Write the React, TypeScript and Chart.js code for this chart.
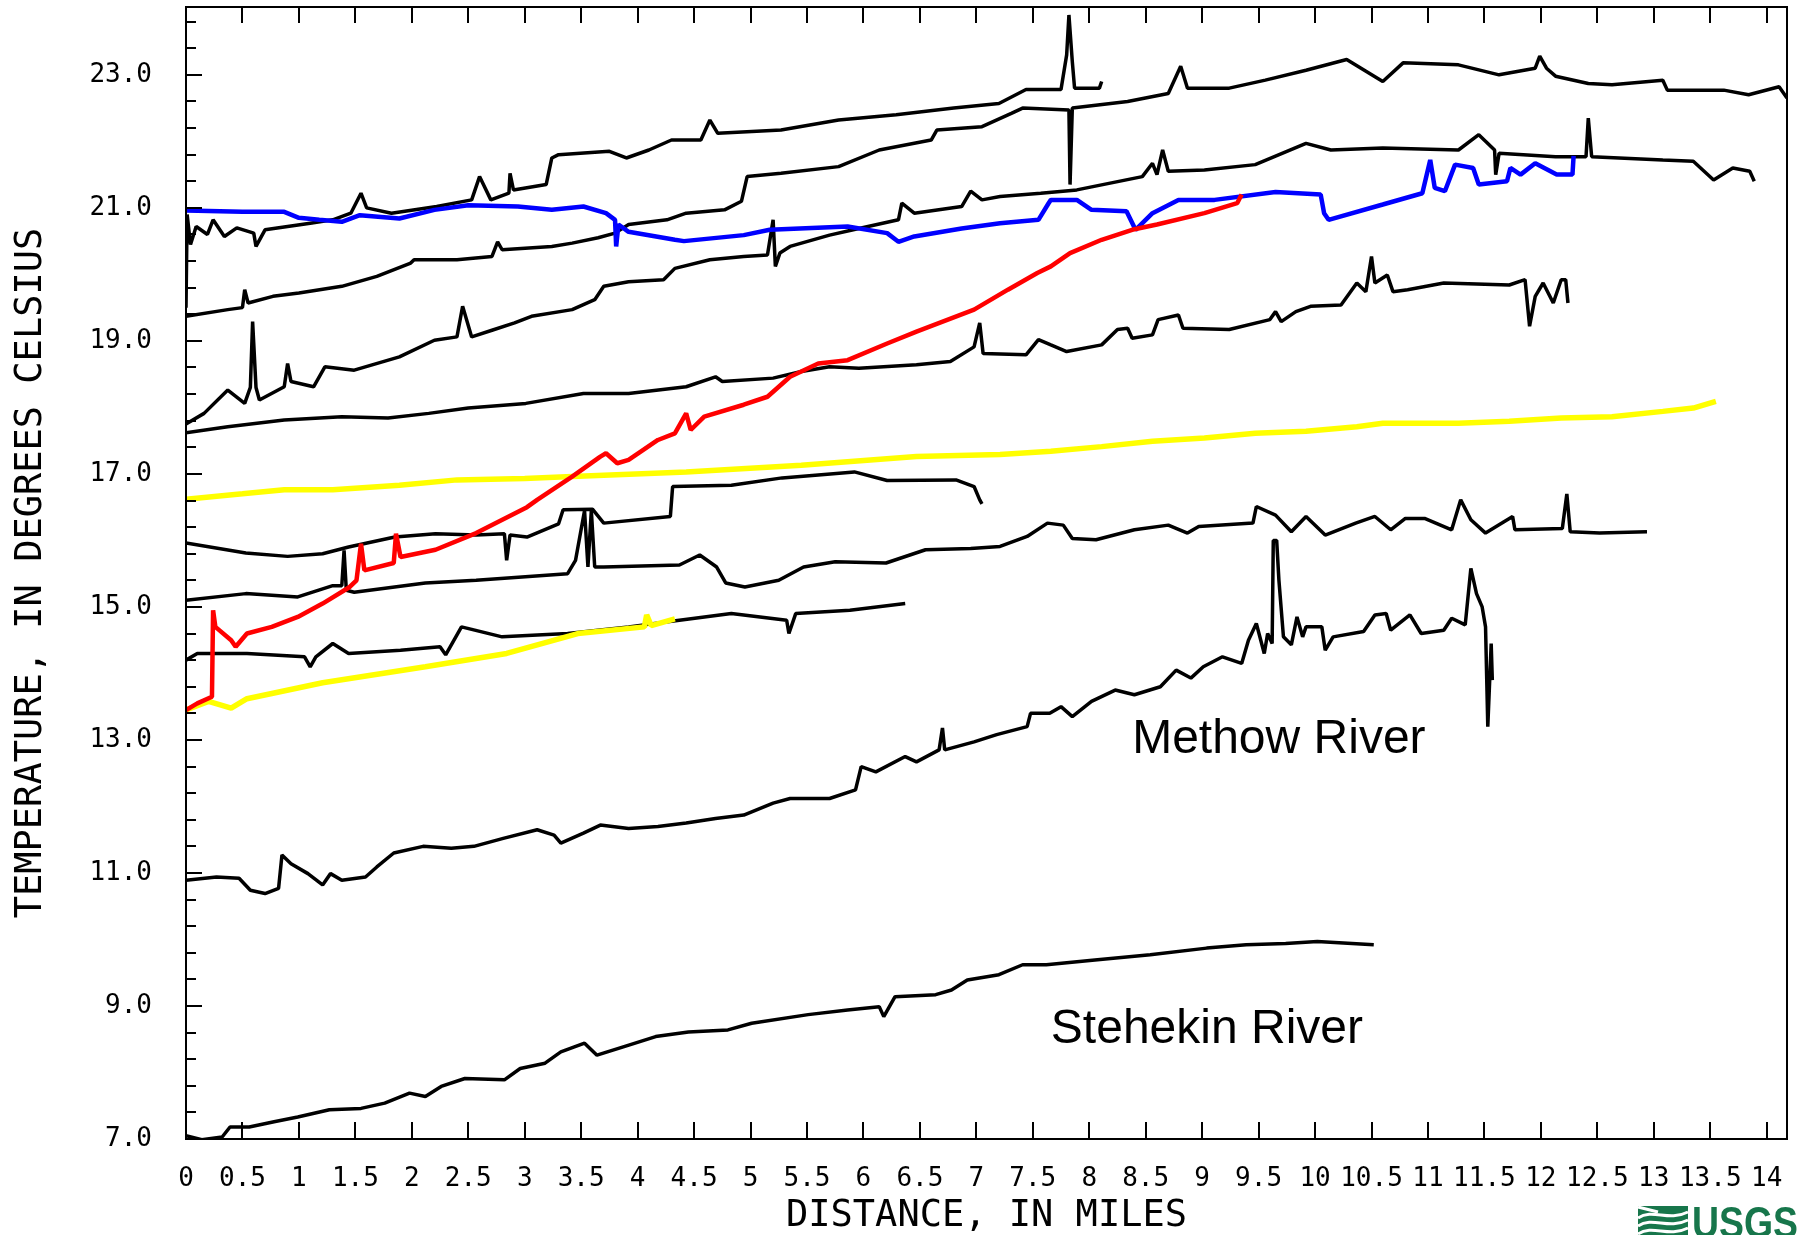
import { useEffect, useRef } from "react";
import { Chart, registerables } from "chart.js";

Chart.register(...registerables);

const FONT = "'DejaVu Sans Mono', 'Liberation Mono', monospace";

// ---- axis ticks ----
const xTickValues = [0, 0.5, 1, 1.5, 2, 2.5, 3, 3.5, 4, 4.5, 5, 5.5, 6, 6.5, 7, 7.5, 8, 8.5, 9, 9.5, 10, 10.5, 11, 11.5, 12, 12.5, 13, 13.5, 14];
const xTickLabels = ["0", "0.5", "1", "1.5", "2", "2.5", "3", "3.5", "4", "4.5", "5", "5.5", "6", "6.5", "7", "7.5", "8", "8.5", "9", "9.5", "10", "10.5", "11", "11.5", "12", "12.5", "13", "13.5", "14"];
const yTickValues = [7, 9, 11, 13, 15, 17, 19, 21, 23];
const yTickLabels = ["7.0", "9.0", "11.0", "13.0", "15.0", "17.0", "19.0", "21.0", "23.0"];
const yMinorTicks = [7.0, 7.4, 7.8, 8.2, 8.6, 9.0, 9.4, 9.8, 10.2, 10.6, 11.0, 11.4, 11.8, 12.2, 12.6, 13.0, 13.4, 13.8, 14.2, 14.6, 15.0, 15.4, 15.8, 16.2, 16.6, 17.0, 17.4, 17.8, 18.2, 18.6, 19.0, 19.4, 19.8, 20.2, 20.6, 21.0, 21.4, 21.8, 22.2, 22.6, 23.0, 23.4, 23.8];

// ---- series: [distance in miles, temperature in deg C] ----
const seriesT1: [number, number][] = [
  [0.0, 19.5], [0.01, 20.9], [0.04, 20.45], [0.09, 20.72], [0.19, 20.6], [0.24, 20.82], [0.34, 20.57], [0.45, 20.7],
  [0.6, 20.62], [0.62, 20.42], [0.7, 20.67], [1.1, 20.77], [1.3, 20.82], [1.46, 20.92], [1.55, 21.22], [1.6, 21.0],
  [1.82, 20.92], [2.22, 21.02], [2.53, 21.12], [2.6, 21.47], [2.7, 21.12], [2.86, 21.22], [2.87, 21.52], [2.9, 21.27],
  [3.19, 21.35], [3.24, 21.75], [3.3, 21.8], [3.75, 21.85], [3.9, 21.75], [4.1, 21.87], [4.3, 22.02], [4.56, 22.02],
  [4.64, 22.32], [4.71, 22.12], [5.27, 22.17], [5.78, 22.32], [6.29, 22.4], [6.8, 22.5], [7.2, 22.57], [7.44, 22.78],
  [7.75, 22.78], [7.8, 23.3], [7.82, 23.9], [7.85, 23.2], [7.87, 22.8], [8.09, 22.8], [8.11, 22.9],
];
const seriesT2: [number, number][] = [
  [0.0, 19.37], [0.37, 19.47], [0.5, 19.5], [0.52, 19.77], [0.55, 19.57], [0.77, 19.67], [1.0, 19.72], [1.38, 19.82],
  [1.69, 19.97], [1.99, 20.17], [2.02, 20.22], [2.4, 20.22], [2.71, 20.27], [2.76, 20.49], [2.8, 20.37], [3.24, 20.42],
  [3.42, 20.47], [3.65, 20.55], [3.8, 20.62], [3.92, 20.75], [4.26, 20.82], [4.43, 20.92], [4.77, 20.97], [4.92, 21.1],
  [4.97, 21.47], [5.27, 21.52], [5.78, 21.62], [6.14, 21.87], [6.6, 22.02], [6.65, 22.17], [7.05, 22.22], [7.31, 22.42],
  [7.41, 22.5], [7.82, 22.47], [7.83, 21.35], [7.85, 22.5], [8.34, 22.6], [8.7, 22.72], [8.81, 23.13], [8.87, 22.8],
  [9.24, 22.8], [9.56, 22.92], [9.92, 23.07], [10.28, 23.23], [10.6, 22.9], [10.78, 23.18], [11.27, 23.15], [11.63, 23.0],
  [11.95, 23.1], [11.99, 23.28], [12.05, 23.1], [12.13, 22.98], [12.42, 22.87], [12.63, 22.85], [13.08, 22.92], [13.12, 22.77],
  [13.62, 22.77], [13.84, 22.7], [14.11, 22.82], [14.18, 22.65],
];
const seriesT3: [number, number][] = [
  [0.0, 17.75], [0.16, 17.91], [0.37, 18.26], [0.52, 18.06], [0.57, 18.3], [0.59, 19.29], [0.62, 18.3], [0.65, 18.11],
  [0.87, 18.31], [0.9, 18.66], [0.93, 18.39], [1.13, 18.31], [1.23, 18.61], [1.49, 18.56], [1.89, 18.76], [2.2, 19.01],
  [2.4, 19.06], [2.45, 19.52], [2.53, 19.06], [2.71, 19.16], [2.91, 19.27], [3.06, 19.37], [3.42, 19.47], [3.62, 19.62],
  [3.7, 19.82], [3.92, 19.89], [4.23, 19.92], [4.33, 20.09], [4.64, 20.22], [4.94, 20.27], [5.15, 20.29], [5.2, 20.82],
  [5.22, 20.12], [5.26, 20.32], [5.35, 20.42], [5.7, 20.59], [5.91, 20.67], [6.31, 20.82], [6.34, 21.07], [6.45, 20.92],
  [6.87, 21.02], [6.95, 21.25], [7.05, 21.12], [7.21, 21.17], [7.57, 21.22], [7.89, 21.27], [8.47, 21.47], [8.56, 21.67],
  [8.6, 21.5], [8.65, 21.87], [8.7, 21.55], [9.02, 21.57], [9.47, 21.65], [9.92, 21.97], [10.14, 21.87], [10.6, 21.9],
  [11.27, 21.87], [11.45, 22.1], [11.59, 21.87], [11.6, 21.5], [11.63, 21.82], [12.13, 21.77], [12.4, 21.77], [12.42, 22.35],
  [12.45, 21.77], [13.08, 21.72], [13.35, 21.7], [13.53, 21.42], [13.7, 21.6], [13.85, 21.55], [13.89, 21.4],
];
const seriesT4: [number, number][] = [
  [0.0, 17.62], [0.37, 17.71], [0.87, 17.81], [1.38, 17.86], [1.79, 17.84], [2.15, 17.91], [2.5, 17.99], [3.01, 18.06],
  [3.52, 18.21], [3.92, 18.21], [4.43, 18.31], [4.69, 18.46], [4.75, 18.39], [5.2, 18.44], [5.45, 18.54], [5.7, 18.61],
  [5.96, 18.59], [6.47, 18.64], [6.77, 18.69], [6.98, 18.91], [7.03, 19.27], [7.06, 18.81], [7.44, 18.79], [7.55, 19.02],
  [7.66, 18.94], [7.8, 18.84], [8.11, 18.94], [8.25, 19.17], [8.34, 19.19], [8.38, 19.04], [8.56, 19.09], [8.61, 19.32],
  [8.79, 19.39], [8.83, 19.19], [9.24, 19.17], [9.6, 19.32], [9.65, 19.44], [9.7, 19.29], [9.83, 19.44], [9.96, 19.52],
  [10.23, 19.54], [10.37, 19.87], [10.45, 19.74], [10.5, 20.27], [10.53, 19.87], [10.64, 19.99], [10.69, 19.74], [10.82, 19.77],
  [11.14, 19.87], [11.72, 19.84], [11.86, 19.92], [11.9, 19.22], [11.95, 19.67], [12.02, 19.87], [12.11, 19.57], [12.18, 19.92],
  [12.22, 19.92], [12.24, 19.57],
];
const seriesBlue: [number, number][] = [
  [0.0, 20.96], [0.5, 20.94], [0.87, 20.94], [1.0, 20.85], [1.18, 20.82], [1.38, 20.79], [1.54, 20.89], [1.89, 20.84],
  [2.2, 20.97], [2.5, 21.04], [2.94, 21.02], [3.24, 20.97], [3.52, 21.02], [3.72, 20.92], [3.8, 20.82], [3.81, 20.42],
  [3.83, 20.75], [3.92, 20.64], [4.33, 20.52], [4.41, 20.5], [4.94, 20.59], [5.17, 20.67], [5.86, 20.72], [6.21, 20.62],
  [6.31, 20.49], [6.45, 20.57], [6.87, 20.69], [7.21, 20.77], [7.55, 20.82], [7.64, 21.07], [7.66, 21.12], [7.89, 21.12],
  [8.02, 20.97], [8.33, 20.95], [8.41, 20.67], [8.56, 20.92], [8.79, 21.12], [9.11, 21.12], [9.65, 21.24], [10.05, 21.2],
  [10.08, 20.92], [10.12, 20.82], [10.6, 21.05], [10.95, 21.22], [11.02, 21.72], [11.06, 21.3], [11.15, 21.25], [11.24, 21.65],
  [11.4, 21.6], [11.45, 21.35], [11.7, 21.4], [11.73, 21.6], [11.82, 21.5], [11.95, 21.67], [12.14, 21.5], [12.28, 21.5],
  [12.29, 21.78],
];
const seriesRed: [number, number][] = [
  [0.0, 13.45], [0.1, 13.55], [0.23, 13.65], [0.24, 14.95], [0.26, 14.7], [0.4, 14.5], [0.44, 14.4], [0.54, 14.6],
  [0.76, 14.7], [0.99, 14.85], [1.21, 15.05], [1.45, 15.3], [1.51, 15.4], [1.55, 15.95], [1.58, 15.55], [1.84, 15.66],
  [1.86, 16.1], [1.9, 15.75], [2.21, 15.86], [2.57, 16.11], [3.02, 16.5], [3.11, 16.61], [3.42, 16.96], [3.67, 17.26],
  [3.72, 17.31], [3.82, 17.16], [3.92, 17.21], [4.18, 17.51], [4.33, 17.61], [4.43, 17.91], [4.47, 17.66], [4.59, 17.86],
  [4.94, 18.04], [5.15, 18.16], [5.35, 18.46], [5.6, 18.66], [5.86, 18.71], [6.21, 18.96], [6.47, 19.14], [6.98, 19.47],
  [7.28, 19.77], [7.54, 20.02], [7.66, 20.12], [7.83, 20.32], [8.11, 20.52], [8.38, 20.67], [8.6, 20.75], [9.02, 20.92],
  [9.31, 21.07], [9.35, 21.2],
];
const seriesYellowUpper: [number, number][] = [
  [0.0, 16.62], [0.5, 16.7], [0.87, 16.76], [1.3, 16.76], [1.89, 16.83], [2.4, 16.91], [3.0, 16.93], [3.42, 16.96],
  [4.43, 17.03], [5.45, 17.13], [6.47, 17.26], [7.21, 17.29], [7.66, 17.34], [8.11, 17.41], [8.56, 17.49], [9.02, 17.54],
  [9.47, 17.61], [9.92, 17.64], [10.37, 17.71], [10.6, 17.76], [11.27, 17.76], [11.72, 17.79], [12.18, 17.84], [12.63, 17.86],
  [13.08, 17.94], [13.35, 17.99], [13.55, 18.09],
];
const seriesYellowLower: [number, number][] = [
  [0.0, 13.45], [0.2, 13.58], [0.4, 13.48], [0.54, 13.62], [1.21, 13.86], [2.12, 14.1], [2.84, 14.3], [3.47, 14.6],
  [4.06, 14.7], [4.08, 14.88], [4.12, 14.72], [4.33, 14.82],
];
const seriesB1: [number, number][] = [
  [0.0, 15.96], [0.53, 15.81], [0.9, 15.76], [1.21, 15.8], [1.44, 15.9], [1.85, 16.05], [2.21, 16.1], [2.57, 16.08],
  [2.82, 16.1], [2.84, 15.7], [2.87, 16.08], [3.02, 16.05], [3.3, 16.25], [3.34, 16.46], [3.6, 16.47], [3.7, 16.26],
  [4.29, 16.36], [4.31, 16.81], [4.83, 16.83], [5.28, 16.94], [5.92, 17.03], [6.21, 16.9], [6.82, 16.91], [6.98, 16.81],
  [7.03, 16.61], [7.05, 16.55],
];
const seriesB2: [number, number][] = [
  [0.0, 15.1], [0.53, 15.2], [0.99, 15.15], [1.3, 15.32], [1.38, 15.32], [1.4, 15.85], [1.42, 15.25], [1.49, 15.22],
  [2.12, 15.36], [2.57, 15.4], [3.38, 15.5], [3.45, 15.7], [3.53, 16.45], [3.56, 15.6], [3.59, 16.45], [3.62, 15.6],
  [3.7, 15.6], [4.37, 15.63], [4.55, 15.78], [4.7, 15.6], [4.78, 15.36], [4.95, 15.3], [5.25, 15.4], [5.47, 15.6],
  [5.75, 15.68], [6.2, 15.66], [6.55, 15.86], [6.95, 15.88], [7.21, 15.91], [7.45, 16.06], [7.63, 16.26], [7.77, 16.23],
  [7.85, 16.03], [8.06, 16.01], [8.4, 16.16], [8.7, 16.23], [8.87, 16.11], [8.97, 16.21], [9.45, 16.26], [9.48, 16.51],
  [9.65, 16.38], [9.79, 16.13], [9.92, 16.36], [10.09, 16.08], [10.36, 16.26], [10.53, 16.36], [10.67, 16.16], [10.8, 16.33],
  [10.97, 16.33], [11.21, 16.16], [11.29, 16.61], [11.38, 16.31], [11.51, 16.11], [11.75, 16.36], [11.77, 16.16], [12.19, 16.18],
  [12.23, 16.7], [12.26, 16.13], [12.52, 16.11], [12.94, 16.13],
];
const seriesB3: [number, number][] = [
  [0.0, 14.2], [0.1, 14.3], [0.54, 14.3], [1.05, 14.25], [1.1, 14.1], [1.15, 14.25], [1.3, 14.45], [1.44, 14.3],
  [1.9, 14.35], [2.25, 14.4], [2.3, 14.28], [2.44, 14.7], [2.8, 14.55], [3.38, 14.6], [3.92, 14.7], [4.37, 14.8],
  [4.83, 14.9], [5.32, 14.8], [5.34, 14.6], [5.4, 14.9], [5.88, 14.95], [6.37, 15.05],
];
const seriesMethow: [number, number][] = [
  [0.0, 10.89], [0.27, 10.94], [0.47, 10.92], [0.57, 10.74], [0.7, 10.69], [0.82, 10.77], [0.85, 11.27], [0.93, 11.14],
  [1.08, 10.99], [1.21, 10.82], [1.28, 10.99], [1.38, 10.89], [1.59, 10.94], [1.69, 11.09], [1.84, 11.3], [2.1, 11.4],
  [2.35, 11.37], [2.55, 11.4], [2.81, 11.52], [3.11, 11.65], [3.26, 11.57], [3.32, 11.45], [3.52, 11.6], [3.67, 11.72],
  [3.92, 11.67], [4.18, 11.7], [4.43, 11.75], [4.69, 11.82], [4.94, 11.87], [5.2, 12.05], [5.35, 12.12], [5.7, 12.12],
  [5.93, 12.25], [5.98, 12.6], [6.11, 12.52], [6.37, 12.75], [6.47, 12.67], [6.67, 12.85], [6.7, 13.18], [6.72, 12.85],
  [6.98, 12.97], [7.18, 13.08], [7.45, 13.2], [7.48, 13.4], [7.65, 13.4], [7.75, 13.5], [7.85, 13.35], [8.02, 13.58],
  [8.23, 13.75], [8.4, 13.68], [8.63, 13.8], [8.77, 14.05], [8.9, 13.93], [9.01, 14.1], [9.18, 14.25], [9.35, 14.15],
  [9.41, 14.5], [9.48, 14.75], [9.55, 14.3], [9.58, 14.6], [9.62, 14.45], [9.63, 16.0], [9.66, 16.0], [9.68, 15.4],
  [9.72, 14.55], [9.79, 14.43], [9.84, 14.85], [9.89, 14.55], [9.92, 14.7], [10.06, 14.7], [10.09, 14.35], [10.16, 14.55],
  [10.43, 14.63], [10.53, 14.88], [10.63, 14.9], [10.67, 14.65], [10.84, 14.88], [10.94, 14.6], [11.14, 14.65], [11.21, 14.83],
  [11.33, 14.73], [11.38, 15.58], [11.43, 15.2], [11.48, 15.0], [11.51, 14.7], [11.53, 13.2], [11.56, 14.45], [11.57, 13.9],
];
const seriesStehekin: [number, number][] = [
  [0.0, 7.05], [0.14, 6.99], [0.32, 7.03], [0.39, 7.18], [0.56, 7.18], [0.78, 7.26], [0.99, 7.33], [1.27, 7.44],
  [1.55, 7.46], [1.76, 7.54], [1.98, 7.69], [2.12, 7.64], [2.26, 7.79], [2.47, 7.91], [2.82, 7.89], [2.96, 8.06],
  [3.18, 8.14], [3.32, 8.31], [3.53, 8.44], [3.64, 8.26], [3.88, 8.39], [4.16, 8.54], [4.45, 8.61], [4.8, 8.64],
  [5.01, 8.74], [5.51, 8.87], [5.86, 8.94], [6.14, 8.99], [6.18, 8.84], [6.28, 9.14], [6.64, 9.17], [6.78, 9.24],
  [6.92, 9.39], [7.2, 9.47], [7.41, 9.62], [7.62, 9.62], [8.05, 9.69], [8.54, 9.77], [9.04, 9.87], [9.39, 9.92],
  [9.74, 9.94], [10.02, 9.97], [10.52, 9.92],
];

// annotation anchors (data coordinates)
const methowLabelAt: [number, number] = [8.38, 12.8];
const stehekinLabelAt: [number, number] = [7.66, 8.44];

const toPts = (s: [number, number][]) => s.map(([x, y]) => ({ x, y }));

const overlayPlugin = {
  id: "overlay",
  afterDatasetsDraw(chart: any) {
    const { ctx, chartArea: a, scales } = chart;
    const xs = scales.x;
    const ys = scales.y;
    ctx.save();
    ctx.strokeStyle = "#000";
    ctx.lineWidth = 2;
    ctx.strokeRect(a.left, a.top, a.right - a.left, a.bottom - a.top);
    ctx.beginPath();
    for (const v of xTickValues) {
      const px = Math.round(xs.getPixelForValue(v));
      ctx.moveTo(px, a.bottom);
      ctx.lineTo(px, a.bottom - 17);
      ctx.moveTo(px, a.top);
      ctx.lineTo(px, a.top + 16);
    }
    for (const v of yMinorTicks) {
      const py = Math.round(ys.getPixelForValue(v));
      const major = yTickValues.some((t) => Math.abs(t - v) < 1e-6);
      ctx.moveTo(a.left, py);
      ctx.lineTo(a.left + (major ? 16 : 10), py);
    }
    ctx.stroke();

    // river labels
    ctx.fillStyle = "#000";
    ctx.font = "48px 'Liberation Sans', Arial, sans-serif";
    ctx.textAlign = "left";
    ctx.textBaseline = "alphabetic";
    ctx.fillText("Methow River", xs.getPixelForValue(methowLabelAt[0]), ys.getPixelForValue(methowLabelAt[1]));
    ctx.fillText("Stehekin River", xs.getPixelForValue(stehekinLabelAt[0]), ys.getPixelForValue(stehekinLabelAt[1]));
    ctx.restore();
  },
  afterDraw(chart: any) {
    const { ctx, width, height } = chart;
    // partial USGS logo at the bottom-right corner
    const green = "#17764b";
    const lx = width - 161;
    const ly = height - 29;
    ctx.save();
    ctx.fillStyle = green;
    ctx.fillRect(lx, ly, 50, 40);
    ctx.strokeStyle = "#fff";
    ctx.lineWidth = 3;
    for (let i = 0; i < 3; i++) {
      const yy = ly + 9 + i * 8;
      ctx.beginPath();
      ctx.moveTo(lx, yy + 3);
      ctx.bezierCurveTo(lx + 15, yy - 7, lx + 30, yy + 7, lx + 50, yy - 3);
      ctx.stroke();
    }
    ctx.beginPath();
    ctx.moveTo(lx, ly + 1);
    ctx.lineTo(lx + 20, ly + 6);
    ctx.stroke();
    ctx.fillStyle = green;
    ctx.font = "bold 44px 'Liberation Sans', Arial, sans-serif";
    ctx.textAlign = "left";
    ctx.textBaseline = "alphabetic";
    ctx.translate(lx + 54, ly + 32);
    ctx.scale(0.85, 1);
    ctx.fillText("USGS", 0, 0);
    ctx.restore();
  },
};

export default function App() {
  const ref = useRef<HTMLCanvasElement | null>(null);
  useEffect(() => {
    document.body.style.margin = "0";
    document.body.style.overflow = "hidden";
    const canvas = ref.current;
    if (!canvas) return;
    const black = (data: [number, number][]) => ({
      data: toPts(data),
      borderColor: "#000000",
      borderWidth: 3.5,
    });
    const chart = new Chart(canvas, {
      type: "line",
      data: {
        datasets: [
          { data: toPts(seriesRed), borderColor: "#ff0000", borderWidth: 4.5 },
          { data: toPts(seriesBlue), borderColor: "#0000ff", borderWidth: 4.5 },
          { data: toPts(seriesYellowUpper), borderColor: "#ffff00", borderWidth: 5.5 },
          { data: toPts(seriesYellowLower), borderColor: "#ffff00", borderWidth: 5.5 },
          black(seriesT1),
          black(seriesT2),
          black(seriesT3),
          black(seriesT4),
          black(seriesB1),
          black(seriesB2),
          black(seriesB3),
          black(seriesMethow),
          black(seriesStehekin),
        ] as any,
      },
      options: {
        responsive: false,
        maintainAspectRatio: false,
        animation: false,
        layout: { padding: { left: 0, right: 12, top: 7, bottom: 0 } },
        plugins: { legend: { display: false }, tooltip: { enabled: false } },
        elements: {
          point: { radius: 0 },
          line: { tension: 0, borderJoinStyle: "bevel", fill: false },
        },
        scales: {
          x: {
            type: "linear",
            min: 0,
            max: 14.18,
            afterBuildTicks: (s: any) => {
              s.ticks = xTickValues.map((v) => ({ value: v }));
            },
            afterFit: (s: any) => {
              s.height = 96;
              s.paddingLeft = 0;
              s.paddingRight = 0;
            },
            grid: { display: false },
            border: { display: false },
            ticks: {
              autoSkip: false,
              maxRotation: 0,
              minRotation: 0,
              padding: 17,
              color: "#000",
              font: { family: FONT, size: 26 },
              callback: (_v: any, i: number) => xTickLabels[i],
            },
            title: {
              display: true,
              text: "DISTANCE, IN MILES",
              color: "#000",
              font: { family: FONT, size: 37, lineHeight: 1 },
              padding: { top: 0, bottom: 0 },
            },
          },
          y: {
            type: "linear",
            min: 7,
            max: 24.02,
            afterBuildTicks: (s: any) => {
              s.ticks = yTickValues.map((v) => ({ value: v }));
            },
            afterFit: (s: any) => {
              s.width = 186;
              s.paddingTop = 0;
              s.paddingBottom = 0;
            },
            grid: { display: false },
            border: { display: false },
            ticks: {
              autoSkip: false,
              padding: 26,
              color: "#000",
              font: { family: FONT, size: 26 },
              callback: (_v: any, i: number) => yTickLabels[i],
            },
            title: {
              display: true,
              text: "TEMPERATURE, IN DEGREES CELSIUS",
              color: "#000",
              font: { family: FONT, size: 37, lineHeight: 1 },
              padding: { top: 13, bottom: 0 },
            },
          },
        },
      } as any,
      plugins: [overlayPlugin],
    });
    return () => chart.destroy();
  }, []);
  return <canvas ref={ref} width={1799} height={1235} style={{ display: "block" }} />;
}
